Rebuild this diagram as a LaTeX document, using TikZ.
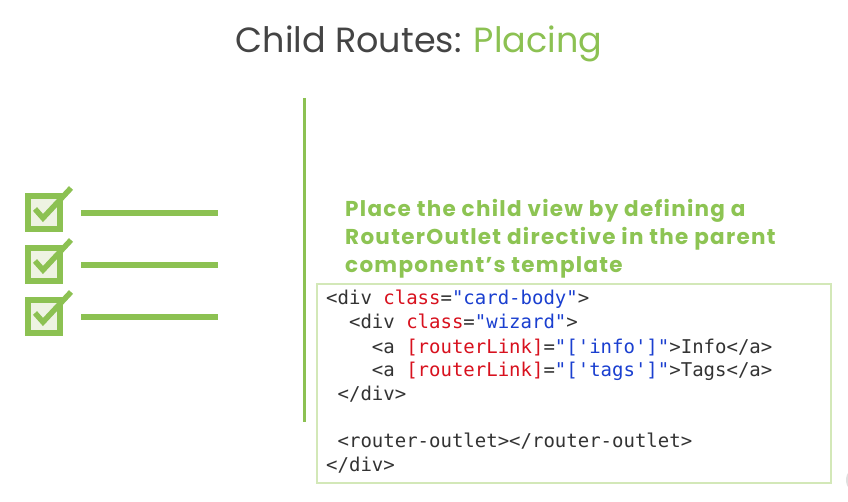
\documentclass[tikz,border=0pt]{standalone}
\usepackage{fontspec}
\setmainfont{Poppins}
\newfontfamily\codefont{DejaVu Sans Mono}
\newfontfamily\headfont{Poppins}
\newfontfamily\leadfont[LetterSpace=6]{Poppins}
\definecolor{lgreen}{HTML}{8CC152}
\definecolor{tgreen}{HTML}{8DC453}
\definecolor{boxfill}{HTML}{EEF3E2}
\definecolor{codeborder}{HTML}{D3E8B8}
\definecolor{titlegray}{HTML}{444444}
\definecolor{codegray}{HTML}{333333}
\definecolor{codered}{HTML}{D8111E}
\definecolor{codeblue}{HTML}{1A3FD0}
\tikzset{
  chkbox/.style={draw=lgreen, fill=boxfill, line width=6pt},
  chkmark/.style={draw=lgreen, line width=5.5pt},
  chkline/.style={draw=lgreen, line width=6pt},
  codeline/.style={anchor=base west, inner sep=0pt, font=\codefont\fontsize{19}{20}\selectfont, text=codegray},
  leadline/.style={anchor=base west, inner sep=0pt, font=\leadfont\bfseries\fontsize{21.5}{24}\selectfont, text=tgreen}
}
\newcommand{\cred}[1]{\textcolor{codered}{#1}}
\newcommand{\cblue}[1]{\textcolor{codeblue}{#1}}
\begin{document}
\begin{tikzpicture}[x=1pt,y=-1pt]
\useasboundingbox (0,0) rectangle (848,502);
\fill[white] (0,0) rectangle (848,502);
% player button artifact
\begin{scope}
\clip (0,0) rectangle (848,502);
\fill[gray!25] (860,480) circle (14);
\end{scope}
% title
\node[anchor=base, inner sep=0pt, font=\headfont\fontsize{35}{40}\selectfont, text=titlegray] (title) at (419,53) {Child Routes: \textcolor{lgreen}{Placing}};
% vertical divider
\coordinate (vt) at (304,98);
\coordinate (vb) at (304,422);
\draw[lgreen, line width=3pt] (vt) -- (vb);
% checklist
\foreach \i/\dy in {1/0,2/52,3/104}{
  \draw[chkbox] (28,{196+\dy}) rectangle (60,{229+\dy});
  \draw[chkmark] (35,{209+\dy}) -- (43,{218+\dy}) -- (71,{188+\dy});
  \coordinate (ls\i) at (81,{213+\dy});
  \coordinate (le\i) at (218,{213+\dy});
  \draw[chkline] (ls\i) -- (le\i);
}
% lead text
\node[leadline] (l1) at (345,217) {Place the child view by defining a};
\node[leadline] (l2) at (345,245) {RouterOutlet directive in the parent};
\node[leadline] (l3) at (345,273) {component’s template};
% code box
\draw[codeborder, line width=1.2pt] (317,284) rectangle (831,483);
\node[codeline] (c1) at (326,305) {<div \cred{class}=\cblue{"card-body"}>};
\node[codeline] (c2) at (326,329) {\ \ <div \cred{class}=\cblue{"wizard"}>};
\node[codeline] (c3) at (326,353) {\ \ \ \ <a \cred{[routerLink]}=\cblue{"['info']"}>Info</a>};
\node[codeline] (c4) at (326,376) {\ \ \ \ <a \cred{[routerLink]}=\cblue{"['tags']"}>Tags</a>};
\node[codeline] (c5) at (326,400) {\ </div>};
\node[codeline] (c7) at (326,447) {\ <router-outlet></router-outlet>};
\node[codeline] (c8) at (326,471) {</div>};
\end{tikzpicture}
\end{document}
